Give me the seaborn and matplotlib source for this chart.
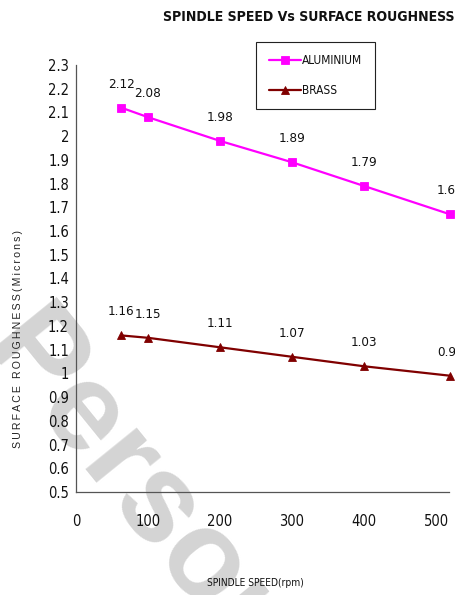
import matplotlib
matplotlib.use("Agg")
import matplotlib.pyplot as plt
from matplotlib import font_manager
import numpy as np
import pandas as pd
import seaborn as sns

# Spindle speed (rpm) and measured surface roughness (microns)
speed = [63, 100, 200, 300, 400, 520]
aluminium = [2.12, 2.08, 1.98, 1.89, 1.79, 1.67]
brass = [1.16, 1.15, 1.11, 1.07, 1.03, 0.99]

series_names = ["ALUMINIUM", "BRASS"]
series_colors = ["#FF00FF", "#800000"]
series_markers = ["s", "^"]

x_ticks = [0, 100, 200, 300, 400, 500]
y_ticks = [0.5, 0.6, 0.7, 0.8, 0.9, 1.0, 1.1, 1.2, 1.3, 1.4, 1.5,
           1.6, 1.7, 1.8, 1.9, 2.0, 2.1, 2.2, 2.3]
y_tick_labels = ["0.5", "0.6", "0.7", "0.8", "0.9", "1", "1.1", "1.2", "1.3",
                 "1.4", "1.5", "1.6", "1.7", "1.8", "1.9", "2", "2.1", "2.2", "2.3"]

title = "SPINDLE SPEED Vs SURFACE ROUGHNESS"
x_label = "SPINDLE SPEED(rpm)"
y_label = "SURFACE ROUGHNESS(Microns)"
watermark = "Personal"

sns.set_theme(style="white")
plt.rcParams["font.family"] = ["Liberation Sans", "DejaVu Sans"]
plt.rcParams["text.color"] = "#111111"


def narrow_font(bold=False):
    """Look for an installed condensed sans face; None when there is none."""
    for f in font_manager.fontManager.ttflist:
        is_narrow = ("Narrow" in f.name or "Condensed" in f.name
                     or str(f.stretch) in ("condensed", "semi-condensed", "extra-condensed", "75", "87"))
        w = f.weight
        is_bold = (w in ("bold", "heavy", "black")) or (isinstance(w, int) and w >= 600)
        if is_narrow and is_bold == bold and "italic" not in f.style and "oblique" not in f.style:
            return font_manager.FontProperties(fname=f.fname)
    return None


fp_reg = narrow_font(False)
fp_bold = narrow_font(True)
have_narrow = fp_reg is not None and fp_bold is not None
shrink = 1.0 if have_narrow else 0.82


def props(size, bold=False):
    if have_narrow:
        p = (fp_bold if bold else fp_reg).copy()
        p.set_size(size)
        return p
    return font_manager.FontProperties(family=["Liberation Sans", "DejaVu Sans"],
                                       weight="bold" if bold else "normal",
                                       size=size * shrink)


df = pd.DataFrame({
    "speed": speed * 2,
    "roughness": aluminium + brass,
    "metal": [series_names[0]] * len(speed) + [series_names[1]] * len(speed),
})

W, H = 455, 595
fig = plt.figure(figsize=(W / 100, H / 100), dpi=100)
fig.patch.set_facecolor("white")

# faint diagonal watermark behind the plot
fig.text(-20 / W, 1 - 350 / H, watermark, rotation=-51, rotation_mode="anchor",
         ha="left", va="baseline", fontsize=90, fontweight="bold",
         family=["Liberation Sans", "DejaVu Sans"], color="#d4d4d4", zorder=-5)

ax = fig.add_axes([76 / W, 103 / H, 373 / W, 427 / H])
ax.patch.set_alpha(0)

sns.lineplot(data=df, x="speed", y="roughness", hue="metal", style="metal",
             palette=dict(zip(series_names, series_colors)),
             markers=dict(zip(series_names, series_markers)), dashes=False,
             markersize=6, linewidth=1.6, markeredgewidth=0.6, ax=ax)
for ln in ax.lines:
    ln.set_clip_on(False)
    ln.set_markeredgecolor(ln.get_color())

# value labels above each point
label_fp = props(9.6) if have_narrow else props(9.6 / shrink)
for values in (aluminium, brass):
    for x, v in zip(speed, values):
        ax.annotate(f"{v:g}", (x, v), xytext=(0, 17), textcoords="offset points",
                    ha="center", va="center", color="#111111",
                    fontproperties=label_fp, annotation_clip=False)

ax.set_xlim(0, 518)
ax.set_ylim(0.5, 2.3)
ax.set_xticks(x_ticks)
ax.set_xticklabels([str(t) for t in x_ticks])
ax.set_yticks(y_ticks)
ax.set_yticklabels(y_tick_labels)
tick_fp = props(10.5) if have_narrow else props(10 / shrink)
for lab in ax.get_xticklabels() + ax.get_yticklabels():
    lab.set_fontproperties(tick_fp)
ax.tick_params(axis="both", colors="#111111", length=3, width=0.8,
               direction="out")
ax.tick_params(axis="x", pad=13)
ax.tick_params(axis="y", pad=2)
sns.despine(ax=ax)
for side in ("left", "bottom"):
    ax.spines[side].set_color("#555555")
    ax.spines[side].set_linewidth(0.9)
ax.set_xlabel("")
ax.set_ylabel("")

handles, labels = ax.get_legend_handles_labels()
ax.legend(handles, labels, loc="center",
          bbox_to_anchor=(315.5 / W, 1 - 75.5 / H), bbox_transform=fig.transFigure,
          frameon=True, fancybox=False, edgecolor="#222222", framealpha=1,
          prop=props(8.6), handlelength=2.7, handletextpad=0.1, borderpad=1.05,
          labelspacing=1.4, borderaxespad=0)
ax.get_legend().get_frame().set_linewidth(0.8)

fig.text(309 / W, 1 - 17 / H, title, ha="center", va="center",
         fontproperties=props(10.1, bold=True), color="#111111")
fig.text(255 / W, 1 - 583 / H, x_label, ha="center", va="center",
         fontproperties=props(7.3), color="#111111")
spaced = "\u2009".join(y_label)
fig.text(18 / W, 1 - 339 / H, spaced, rotation=90, ha="center", va="center",
         fontsize=7.6, family=["Liberation Sans", "DejaVu Sans"], color="#222222")

fig.savefig("out.png", dpi=100, facecolor="white")
